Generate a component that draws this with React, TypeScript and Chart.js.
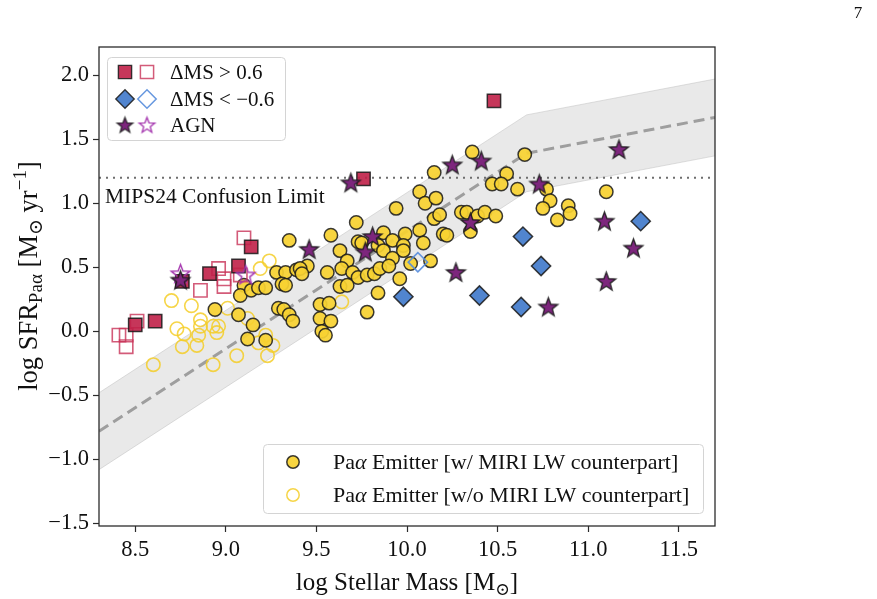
import React, { useEffect, useRef } from 'react';
import { Chart, registerables } from 'chart.js';

Chart.register(...registerables);

const SERIF = '"Liberation Serif", "Times New Roman", "DejaVu Serif", serif';
const W = 877;
const H = 599;

// Axis ticks and limits
const massTicks = [8.5, 9.0, 9.5, 10.0, 10.5, 11.0, 11.5];
const sfrTicks = [-1.5, -1.0, -0.5, 0.0, 0.5, 1.0, 1.5, 2.0];
const massRange = [8.3, 11.7];
const sfrRange = [-1.52, 2.22];

// Star-forming main sequence (broken power law) and its scatter
const msMass = [8.3, 10.66, 11.7];
const msSfr = [-0.78, 1.39, 1.67];
const msScatter = 0.3;
const confusionLimit = 1.2;

// Paα emitters with a MIRI LW counterpart
const miriMass = [
  9.35, 8.94, 9.07, 9.15, 9.12, 9.22, 9.10, 9.08, 9.14, 9.18, 9.22, 9.28, 9.33, 9.39, 9.31, 9.33, 9.29, 9.32, 9.35, 9.37,
  10.15, 10.07, 10.10, 10.16, 10.15, 9.94, 9.72, 9.58, 9.87, 9.99, 10.07, 10.09, 9.92, 9.84, 9.87, 9.73, 9.75, 9.63, 9.98, 9.98,
  9.92, 10.02, 10.13, 9.67, 9.64, 9.70, 9.73, 9.78, 9.82, 9.85, 9.90, 9.96, 9.84, 9.78, 9.63, 9.67, 9.56, 9.45, 9.41, 9.42,
  9.52, 9.57, 9.52, 9.58, 9.53, 9.55, 10.36, 10.65, 10.55, 10.47, 10.52, 10.61, 10.18, 10.30, 10.33, 10.39, 10.43, 10.49, 10.35, 10.20,
  10.22, 10.77, 11.10, 10.79, 10.75, 10.89, 10.90, 10.83,
];
const miriSfr = [
  0.71, 0.17, 0.13, 0.05, -0.06, -0.07, 0.36, 0.28, 0.32, 0.34, 0.34, 0.46, 0.46, 0.48, 0.37, 0.36, 0.18, 0.17, 0.13, 0.08,
  1.24, 1.09, 1.00, 1.04, 0.88, 0.96, 0.85, 0.75, 0.77, 0.76, 0.79, 0.69, 0.71, 0.67, 0.63, 0.70, 0.69, 0.63, 0.67, 0.63,
  0.57, 0.53, 0.55, 0.55, 0.49, 0.46, 0.42, 0.44, 0.45, 0.49, 0.51, 0.41, 0.30, 0.15, 0.35, 0.36, 0.46, 0.51, 0.49, 0.45,
  0.21, 0.22, 0.10, 0.08, 0.00, -0.03, 1.40, 1.38, 1.23, 1.15, 1.15, 1.11, 0.91, 0.93, 0.93, 0.90, 0.93, 0.90, 0.78, 0.76,
  0.75, 1.11, 1.09, 1.02, 0.96, 0.98, 0.92, 0.87,
];

// Paα emitters without a MIRI LW counterpart
const noMiriMass = [
  9.24, 9.19, 8.70, 8.81, 8.86, 8.86, 8.93, 8.96, 8.73, 8.77, 8.85, 8.95,
  8.76, 8.84, 8.60, 8.93, 9.06, 9.23, 9.22, 9.26, 9.01, 9.64, 9.18, 9.12,
];
const noMiriSfr = [
  0.55, 0.49, 0.24, 0.20, 0.09, 0.04, 0.04, 0.04, 0.02, -0.02, -0.03, -0.01,
  -0.12, -0.11, -0.26, -0.26, -0.19, -0.19, -0.03, -0.11, 0.18, 0.23, -0.09, 0.10,
];

// ΔMS > 0.6 (starbursts)
const highMiriMass = [8.50, 8.61, 8.76, 8.91, 9.07, 9.14, 9.76, 10.48];
const highMiriSfr = [0.05, 0.08, 0.39, 0.45, 0.51, 0.66, 1.19, 1.80];
const highNoMiriMass = [9.10, 8.96, 8.99, 8.99, 8.86, 8.51, 8.41, 8.45, 8.45, 9.08];
const highNoMiriSfr = [0.73, 0.49, 0.41, 0.35, 0.32, 0.08, -0.03, -0.03, -0.12, 0.44];

// ΔMS < -0.6 (below the main sequence)
const lowMiriMass = [9.98, 10.40, 10.64, 10.74, 10.63, 11.29];
const lowMiriSfr = [0.27, 0.28, 0.74, 0.51, 0.19, 0.86];
const lowNoMiriMass = [10.06];
const lowNoMiriSfr = [0.54];

// AGN
const agnMiriMass = [8.75, 9.46, 9.69, 9.77, 9.81, 10.25, 10.27, 10.35, 10.41, 10.73, 10.78, 11.09, 11.10, 11.17, 11.25];
const agnMiriSfr = [0.40, 0.64, 1.16, 0.62, 0.74, 1.30, 0.46, 0.85, 1.33, 1.15, 0.19, 0.86, 0.39, 1.42, 0.65];
const agnNoMiriMass = [8.75, 9.11];
const agnNoMiriSfr = [0.45, 0.44];

// Marker styles
const YELLOW = 'rgba(247,210,50,0.93)';
const YELLOW_EDGE = 'rgba(245,206,40,0.85)';
const DARK_EDGE = 'rgba(25,25,25,0.85)';
const RED = 'rgba(192,32,72,0.9)';
const RED_EDGE = 'rgba(200,50,88,0.8)';
const BLUE = 'rgba(72,126,204,0.95)';
const BLUE_EDGE = 'rgba(85,140,220,0.9)';
const PURPLE = 'rgb(125,38,125)';
const PURPLE_EDGE = 'rgb(165,55,175)';

const R_CIRCLE = 6.7;
const R_SQUARE = 9.4;
const R_DIAMOND = 9.6;
const R_STAR = 9.8;

const pts = (xs: number[], ys: number[]) => xs.map((x, i) => ({ x, y: ys[i] }));

function makeStar(outer: number, fill: string | null, stroke: string, lw: number) {
  const size = Math.ceil(2 * outer + 2 * lw + 2);
  const c = document.createElement('canvas');
  c.width = size;
  c.height = size;
  const ctx = c.getContext('2d')!;
  const cx = size / 2;
  const cy = size / 2 + 0.6;
  const inner = outer * 0.42;
  ctx.beginPath();
  for (let i = 0; i < 10; i++) {
    const r = i % 2 === 0 ? outer : inner;
    const a = -Math.PI / 2 + (i * Math.PI) / 5;
    ctx.lineTo(cx + r * Math.cos(a), cy + r * Math.sin(a));
  }
  ctx.closePath();
  if (fill) {
    ctx.fillStyle = fill;
    ctx.fill();
  }
  ctx.lineJoin = 'miter';
  ctx.lineWidth = lw;
  ctx.strokeStyle = stroke;
  ctx.stroke();
  return c;
}

type Seg = { t: string; s?: number; dy?: number; it?: boolean };

function segFont(size: number, it?: boolean) {
  return `${it ? 'italic ' : ''}${size}px ${SERIF}`;
}
function measureSegs(ctx: CanvasRenderingContext2D, segs: Seg[], size: number) {
  let w = 0;
  for (const g of segs) {
    ctx.font = segFont(size * (g.s ?? 1), g.it);
    w += ctx.measureText(g.t).width;
  }
  return w;
}
function drawSegs(ctx: CanvasRenderingContext2D, segs: Seg[], size: number, x: number, y: number) {
  let cx = x;
  for (const g of segs) {
    ctx.font = segFont(size * (g.s ?? 1), g.it);
    ctx.fillText(g.t, cx, y + (g.dy ?? 0) * size);
    cx += ctx.measureText(g.t).width;
  }
}

function fmtTick(v: number) {
  const s = Math.abs(v).toFixed(1);
  return v < 0 ? '\u2212' + s : s;
}

function roundRect(ctx: CanvasRenderingContext2D, x: number, y: number, w: number, h: number, r: number) {
  ctx.beginPath();
  ctx.moveTo(x + r, y);
  ctx.lineTo(x + w - r, y);
  ctx.quadraticCurveTo(x + w, y, x + w, y + r);
  ctx.lineTo(x + w, y + h - r);
  ctx.quadraticCurveTo(x + w, y + h, x + w - r, y + h);
  ctx.lineTo(x + r, y + h);
  ctx.quadraticCurveTo(x, y + h, x, y + h - r);
  ctx.lineTo(x, y + r);
  ctx.quadraticCurveTo(x, y, x + r, y);
  ctx.closePath();
}

function drawMarker(
  ctx: CanvasRenderingContext2D,
  kind: 'circle' | 'square' | 'diamond',
  x: number,
  y: number,
  r: number,
  fill: string | null,
  stroke: string,
  lw: number,
) {
  ctx.beginPath();
  if (kind === 'circle') ctx.arc(x, y, r, 0, Math.PI * 2);
  else if (kind === 'square') ctx.rect(x - r, y - r, 2 * r, 2 * r);
  else {
    ctx.moveTo(x - r, y);
    ctx.lineTo(x, y - r);
    ctx.lineTo(x + r, y);
    ctx.lineTo(x, y + r);
    ctx.closePath();
  }
  if (fill) {
    ctx.fillStyle = fill;
    ctx.fill();
  }
  ctx.lineWidth = lw;
  ctx.strokeStyle = stroke;
  ctx.stroke();
}

export default function App() {
  const ref = useRef<HTMLCanvasElement | null>(null);

  useEffect(() => {
    const canvas = ref.current;
    if (!canvas) return;

    const starFilled = makeStar(R_STAR, PURPLE, DARK_EDGE, 1.4);
    const starOpen = makeStar(R_STAR, null, PURPLE_EDGE, 1.4);
    const starFilledLg = makeStar(8.2, PURPLE, DARK_EDGE, 1.3);
    const starOpenLg = makeStar(8.2, null, PURPLE_EDGE, 1.3);

    const upper = msSfr.map((v) => v + msScatter);
    const lower = msSfr.map((v) => v - msScatter);

    const decor = {
      id: 'decor',
      afterDatasetsDraw(chart: any) {
        const { ctx, chartArea: a, scales } = chart;
        const ys = scales.y;
        ctx.save();
        // frame
        ctx.strokeStyle = '#2b2b2b';
        ctx.lineWidth = 1.3;
        ctx.strokeRect(a.left, a.top, a.right - a.left, a.bottom - a.top);

        // confusion-limit label
        ctx.fillStyle = '#111';
        ctx.textBaseline = 'alphabetic';
        ctx.textAlign = 'left';
        ctx.font = `21.5px ${SERIF}`;
        ctx.fillText('MIPS24 Confusion Limit', a.left + 6, ys.getPixelForValue(confusionLimit) + 25);

        // upper-left legend
        ctx.fillStyle = 'rgba(255,255,255,0.85)';
        roundRect(ctx, 107.5, 57.5, 178, 83, 4);
        ctx.fill();
        ctx.strokeStyle = '#d4d4d4';
        ctx.lineWidth = 1;
        ctx.stroke();
        const rows = [72, 99, 125];
        drawMarker(ctx, 'square', 125, rows[0], 6.6, RED, DARK_EDGE, 1.4);
        drawMarker(ctx, 'square', 147, rows[0], 6.6, null, RED_EDGE, 1.5);
        drawMarker(ctx, 'diamond', 125, rows[1], 9.2, BLUE, DARK_EDGE, 1.4);
        drawMarker(ctx, 'diamond', 147, rows[1], 9.2, null, BLUE_EDGE, 1.5);
        ctx.drawImage(starFilledLg, 125 - starFilledLg.width / 2, rows[2] - starFilledLg.height / 2);
        ctx.drawImage(starOpenLg, 147 - starOpenLg.width / 2, rows[2] - starOpenLg.height / 2);
        ctx.fillStyle = '#111';
        ctx.font = `21px ${SERIF}`;
        ctx.textBaseline = 'middle';
        ctx.fillText('\u0394MS > 0.6', 170, rows[0] + 1);
        ctx.fillText('\u0394MS < \u22120.6', 170, rows[1] + 1);
        ctx.fillText('AGN', 170, rows[2] + 1);

        // lower-right legend
        ctx.fillStyle = 'rgba(255,255,255,0.85)';
        roundRect(ctx, 263.5, 444.5, 440, 69, 4);
        ctx.fill();
        ctx.strokeStyle = '#d4d4d4';
        ctx.lineWidth = 1;
        ctx.stroke();
        const rows2 = [462, 495];
        drawMarker(ctx, 'circle', 293, rows2[0], 6.2, YELLOW, DARK_EDGE, 1.5);
        drawMarker(ctx, 'circle', 293, rows2[1], 6.2, null, YELLOW_EDGE, 1.5);
        ctx.fillStyle = '#111';
        ctx.textBaseline = 'alphabetic';
        const lab1: Seg[] = [{ t: 'Pa' }, { t: '\u03b1', it: true }, { t: ' Emitter [w/ MIRI LW counterpart]' }];
        const lab2: Seg[] = [{ t: 'Pa' }, { t: '\u03b1', it: true }, { t: ' Emitter [w/o MIRI LW counterpart]' }];
        drawSegs(ctx, lab1, 22, 333, rows2[0] + 7);
        drawSegs(ctx, lab2, 22, 333, rows2[1] + 7);
        ctx.restore();
      },
      afterDraw(chart: any) {
        const { ctx, chartArea: a } = chart;
        ctx.save();
        ctx.fillStyle = '#111';
        ctx.textAlign = 'left';
        ctx.textBaseline = 'alphabetic';
        // x-axis title
        const xt: Seg[] = [
          { t: 'log Stellar Mass [M' },
          { t: '\u2299', s: 0.7, dy: 0.18 },
          { t: ']' },
        ];
        const xw = measureSegs(ctx, xt, 25);
        drawSegs(ctx, xt, 25, (a.left + a.right) / 2 - xw / 2, 590);
        // y-axis title
        const ySize = 26.5;
        const yt: Seg[] = [
          { t: 'log SFR' },
          { t: 'Pa', s: 0.72, dy: 0.2 },
          { t: '\u03b1', s: 0.72, dy: 0.2 },
          { t: ' [M' },
          { t: '\u2299', s: 0.72, dy: 0.18 },
          { t: ' yr' },
          { t: '\u22121', s: 0.72, dy: -0.42 },
          { t: ']' },
        ];
        const yw = measureSegs(ctx, yt, ySize);
        ctx.translate(28, 276);
        ctx.rotate(-Math.PI / 2);
        drawSegs(ctx, yt, ySize, -yw / 2, 9);
        ctx.restore();
        // page number
        ctx.save();
        ctx.fillStyle = '#111';
        ctx.font = `17px ${SERIF}`;
        ctx.textAlign = 'center';
        ctx.fillText('7', 858, 18);
        ctx.restore();
      },
    };

    const chart = new Chart(canvas, {
      type: 'scatter',
      data: {
        datasets: [
          {
            label: 'MS upper',
            data: pts(msMass, upper),
            showLine: true,
            pointRadius: 0,
            borderColor: 'rgba(185,185,185,0.45)',
            borderWidth: 1,
            backgroundColor: 'rgba(170,170,170,0.26)',
            fill: 1,
            order: 30,
          },
          {
            label: 'MS lower',
            data: pts(msMass, lower),
            showLine: true,
            pointRadius: 0,
            borderColor: 'rgba(185,185,185,0.45)',
            borderWidth: 1,
            fill: false,
            order: 29,
          },
          {
            label: 'MS',
            data: pts(msMass, msSfr),
            showLine: true,
            pointRadius: 0,
            borderColor: 'rgb(158,158,158)',
            borderWidth: 3,
            borderDash: [11, 6],
            fill: false,
            order: 28,
          },
          {
            label: 'Confusion limit',
            data: pts(massRange, [confusionLimit, confusionLimit]),
            showLine: true,
            pointRadius: 0,
            borderColor: 'rgb(110,110,110)',
            borderWidth: 2,
            borderDash: [2, 5],
            fill: false,
            order: 27,
          },
          {
            label: 'Paα Emitter [w/o MIRI LW counterpart]',
            data: pts(noMiriMass, noMiriSfr),
            pointStyle: 'circle',
            pointRadius: R_CIRCLE,
            backgroundColor: 'rgba(0,0,0,0)',
            borderColor: YELLOW_EDGE,
            borderWidth: 1.6,
            order: 20,
          },
          {
            label: 'Paα Emitter [w/ MIRI LW counterpart]',
            data: pts(miriMass, miriSfr),
            pointStyle: 'circle',
            pointRadius: R_CIRCLE,
            backgroundColor: YELLOW,
            borderColor: DARK_EDGE,
            borderWidth: 1.5,
            order: 19,
          },
          {
            label: 'ΔMS > 0.6 (w/o MIRI)',
            data: pts(highNoMiriMass, highNoMiriSfr),
            pointStyle: 'rect',
            pointRadius: R_SQUARE,
            backgroundColor: 'rgba(0,0,0,0)',
            borderColor: RED_EDGE,
            borderWidth: 1.6,
            order: 10,
          },
          {
            label: 'ΔMS > 0.6',
            data: pts(highMiriMass, highMiriSfr),
            pointStyle: 'rect',
            pointRadius: R_SQUARE,
            backgroundColor: RED,
            borderColor: DARK_EDGE,
            borderWidth: 1.5,
            order: 9,
          },
          {
            label: 'ΔMS < −0.6 (w/o MIRI)',
            data: pts(lowNoMiriMass, lowNoMiriSfr),
            pointStyle: 'rectRot',
            pointRadius: R_DIAMOND,
            backgroundColor: 'rgba(0,0,0,0)',
            borderColor: BLUE_EDGE,
            borderWidth: 1.6,
            order: 8,
          },
          {
            label: 'ΔMS < −0.6',
            data: pts(lowMiriMass, lowMiriSfr),
            pointStyle: 'rectRot',
            pointRadius: R_DIAMOND,
            backgroundColor: BLUE,
            borderColor: DARK_EDGE,
            borderWidth: 1.5,
            order: 7,
          },
          {
            label: 'AGN (w/o MIRI)',
            data: pts(agnNoMiriMass, agnNoMiriSfr),
            pointStyle: starOpen as any,
            pointRadius: R_STAR,
            order: 4,
          },
          {
            label: 'AGN',
            data: pts(agnMiriMass, agnMiriSfr),
            pointStyle: starFilled as any,
            pointRadius: R_STAR,
            order: 3,
          },
        ] as any,
      },
      options: {
        responsive: false,
        maintainAspectRatio: false,
        devicePixelRatio: 1,
        animation: false,
        events: [],
        layout: { padding: { left: 0, top: 47, right: 162, bottom: 0 } },
        plugins: {
          legend: { display: false },
          tooltip: { enabled: false },
        },
        scales: {
          x: {
            type: 'linear',
            min: massRange[0],
            max: massRange[1],
            afterBuildTicks: (s: any) => {
              s.ticks = massTicks.map((v) => ({ value: v }));
            },
            afterFit: (s: any) => {
              s.height = 73;
            },
            ticks: {
              font: { family: SERIF, size: 22.5 },
              color: '#111',
              padding: 5,
              maxRotation: 0,
              autoSkip: false,
              callback: (v: any) => fmtTick(Number(v)),
            },
            grid: {
              display: true,
              drawOnChartArea: false,
              drawTicks: true,
              tickLength: 6,
              tickColor: '#2b2b2b',
              tickWidth: 1.2,
            },
            border: { display: false },
          },
          y: {
            type: 'linear',
            min: sfrRange[0],
            max: sfrRange[1],
            afterBuildTicks: (s: any) => {
              s.ticks = sfrTicks.map((v) => ({ value: v }));
            },
            afterFit: (s: any) => {
              s.width = 99;
            },
            ticks: {
              font: { family: SERIF, size: 22.5 },
              color: '#111',
              padding: 4,
              autoSkip: false,
              callback: (v: any) => fmtTick(Number(v)),
            },
            grid: {
              display: true,
              drawOnChartArea: false,
              drawTicks: true,
              tickLength: 6,
              tickColor: '#2b2b2b',
              tickWidth: 1.2,
            },
            border: { display: false },
          },
        },
      } as any,
      plugins: [decor],
    });

    return () => chart.destroy();
  }, []);

  return (
    <div style={{ position: 'absolute', left: 0, top: 0, width: W, height: H, background: '#fff' }}>
      <canvas ref={ref} width={W} height={H} style={{ display: 'block', width: W, height: H }} />
    </div>
  );
}
